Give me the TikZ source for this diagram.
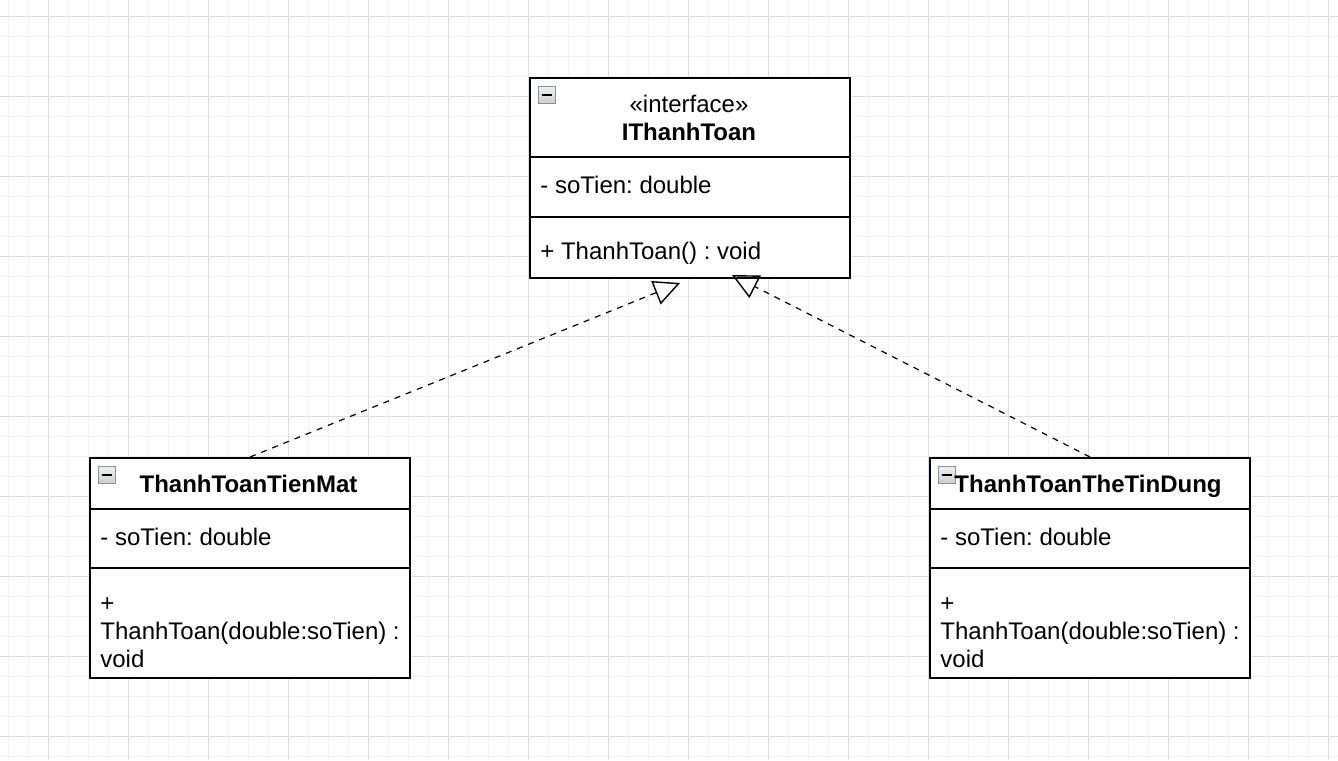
\documentclass[tikz,border=0pt]{standalone}
\usepackage{fontspec}
\setmainfont{Liberation Sans}
\usetikzlibrary{arrows.meta}
\definecolor{gridminor}{HTML}{F2F2F2}
\definecolor{gridmajor}{HTML}{DEDEDE}
\definecolor{iconborder}{HTML}{8B90A0}
\frenchspacing
\begin{document}
\begin{tikzpicture}[x=0.5pt,y=-0.5pt,
  font=\fontsize{12}{14}\selectfont,
  umlbox/.style={draw=black, line width=1pt, fill=white, anchor=north west, inner sep=0pt, minimum width=160pt},
  divider/.style={draw=black, line width=1pt},
  txt/.style={inner sep=0pt, anchor=base west},
  title/.style={inner sep=0pt, anchor=base, font=\fontsize{12}{14}\selectfont\bfseries},
  collapse/.style={draw=iconborder, line width=0.6pt, top color=gray!12, bottom color=gray!38,
    minimum size=8.5pt, inner sep=0pt,
    path picture={\draw[black, line width=0.9pt]
      ([xshift=1.6pt]path picture bounding box.west) -- ([xshift=-1.6pt]path picture bounding box.east);}},
  realize/.style={draw=black, line width=0.6pt, dash pattern=on 3pt off 3pt,
    -{Triangle[open, length=13pt, width=12.5pt, line width=0.7pt]}}
]
\useasboundingbox (0,0) rectangle (1338,760);
\fill[white] (0,0) rectangle (1338,760);
% grid
\foreach \x in {8,28,...,1338} \draw[gridminor, line width=0.5pt] (\x,0) -- (\x,760);
\foreach \y in {16,36,...,760} \draw[gridminor, line width=0.5pt] (0,\y) -- (1338,\y);
\foreach \x in {48,128,...,1338} \draw[gridmajor, line width=0.5pt] (\x,0) -- (\x,760);
\foreach \y in {16,96,...,760} \draw[gridmajor, line width=0.5pt] (0,\y) -- (1338,\y);

% interface box
\node[umlbox, minimum height=100pt] (iface) at (529,77) {};
\draw[divider] (529,157) -- (849,157);
\draw[divider] (529,217) -- (849,217);
\node[collapse] (iconI) at (547,95) {};
\node[inner sep=0pt, anchor=base] (stereo) at (689,112.5) {«interface»};
\node[title] (ifaceName) at (689,140) {IThanhToan};
\node[txt] (ifaceAttr) at (540,193) {- soTien: double};
\node[txt] (ifaceOp) at (540,259) {+ ThanhToan() : void};

% left box
\node[umlbox, minimum height=110pt] (lbox) at (89,457) {};
\draw[divider] (89,509) -- (409,509);
\draw[divider] (89,568) -- (409,568);
\node[collapse] (iconL) at (107,475) {};
\node[title] (lName) at (248.5,492) {ThanhToanTienMat};
\node[txt] (lAttr) at (100,545) {- soTien: double};
\node[txt] (lOp1) at (100,611) {+};
\node[txt] (lOp2) at (100,639) {ThanhToan(double:soTien) :};
\node[txt] (lOp3) at (100,667) {void};

% right box
\node[umlbox, minimum height=110pt] (rbox) at (929,457) {};
\draw[divider] (929,509) -- (1249,509);
\draw[divider] (929,568) -- (1249,568);
\node[collapse] (iconR) at (947,475) {};
\node[title] (rName) at (1088,492) {ThanhToanTheTinDung};
\node[txt] (rAttr) at (940,545) {- soTien: double};
\node[txt] (rOp1) at (940,611) {+};
\node[txt] (rOp2) at (940,639) {ThanhToan(double:soTien) :};
\node[txt] (rOp3) at (940,667) {void};

% realizations
\coordinate (tipL) at (680,283);
\coordinate (tipR) at (732,275);
\draw[realize] (lbox.north) -- (tipL);
\draw[realize] (rbox.north) -- (tipR);
\end{tikzpicture}
\end{document}
